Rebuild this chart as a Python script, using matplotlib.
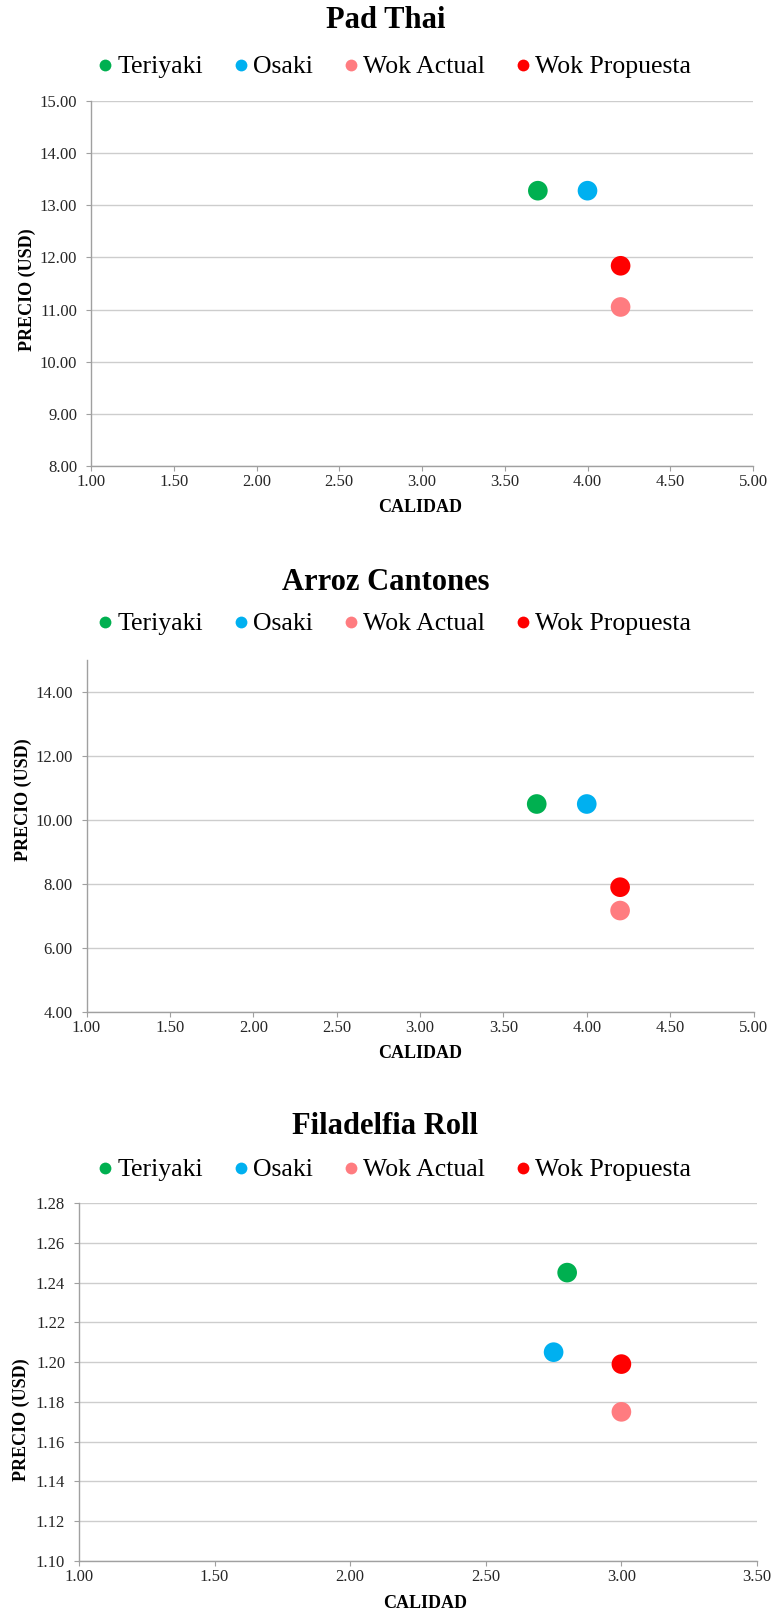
import matplotlib
matplotlib.use("Agg")
import matplotlib.pyplot as plt
from matplotlib.lines import Line2D
from matplotlib.ticker import FormatStrFormatter, MultipleLocator

plt.rcParams['font.family'] = ['Liberation Serif', 'DejaVu Serif']

# Competitors / series
series = ["Teriyaki", "Osaki", "Wok Actual", "Wok Propuesta"]
colors = ["#00B050", "#00B0F0", "#FF7C80", "#FF0000"]

# Pad Thai: quality (x) and price in USD (y)
pad_thai_calidad = [3.70, 4.00, 4.20, 4.20]
pad_thai_precio = [13.28, 13.28, 11.05, 11.84]

# Arroz Cantones
arroz_calidad = [3.70, 4.00, 4.20, 4.20]
arroz_precio = [10.50, 10.50, 7.17, 7.90]

# Filadelfia Roll
filadelfia_calidad = [2.80, 2.75, 3.00, 3.00]
filadelfia_precio = [1.245, 1.205, 1.175, 1.199]

W, H = 771, 1612
fig = plt.figure(figsize=(W / 100, H / 100), dpi=100)


def fx(px):
    return px / W


def fy(py):
    return 1 - py / H


panels = [
    dict(title="Pad Thai", x=pad_thai_calidad, y=pad_thai_precio,
         rect=(91, 101, 753, 466), xlim=(1, 5), xstep=0.5,
         ylim=(8, 15), ystep=1, yfmt="%.2f",
         title_y=21, legend_y=67, ylabel_pos=(27, 290), xlabel_pos=(420, 507)),
    dict(title="Arroz Cantones", x=arroz_calidad, y=arroz_precio,
         rect=(86.5, 660, 753.5, 1012), xlim=(1, 5), xstep=0.5,
         ylim=(4, 15), ystep=2, yfmt="%.2f",
         title_y=583, legend_y=624, ylabel_pos=(23, 800), xlabel_pos=(420, 1053)),
    dict(title="Filadelfia Roll", x=filadelfia_calidad, y=filadelfia_precio,
         rect=(79, 1203, 757, 1561), xlim=(1, 3.5), xstep=0.5,
         ylim=(1.10, 1.28), ystep=0.02, yfmt="%.2f",
         title_y=1127, legend_y=1170, ylabel_pos=(21, 1420), xlabel_pos=(425, 1604)),
]

grid_c = "#CDCDCD"
spine_c = "#A0A0A0"
tick_c = "#262626"

for p in panels:
    l, t, r, b = p["rect"]
    ax = fig.add_axes([fx(l), fy(b), fx(r) - fx(l), (b - t) / H])
    for name, c, xv, yv in zip(series, colors, p["x"], p["y"]):
        ax.scatter([xv], [yv], s=200, color=c, edgecolors="none", zorder=3, label=name)
    ax.set_xlim(*p["xlim"])
    ax.set_ylim(*p["ylim"])
    ax.xaxis.set_major_locator(MultipleLocator(p["xstep"]))
    ax.yaxis.set_major_locator(MultipleLocator(p["ystep"]))
    ax.xaxis.set_major_formatter(FormatStrFormatter("%.2f"))
    ax.yaxis.set_major_formatter(FormatStrFormatter(p["yfmt"]))
    ax.grid(axis="y", color=grid_c, linewidth=1.0, zorder=0)
    ax.set_axisbelow(True)
    for s in ("top", "right"):
        ax.spines[s].set_visible(False)
    for s in ("left", "bottom"):
        ax.spines[s].set_color(spine_c)
        ax.spines[s].set_linewidth(1.0)
    ax.tick_params(axis="both", direction="out", length=3.5, width=0.8,
                   color=spine_c, labelcolor=tick_c, labelsize=12)
    ax.tick_params(axis="y", pad=6.5)
    ax.tick_params(axis="x", pad=2)

    fig.text(fx(385.5), fy(p["title_y"]), p["title"], ha="center", va="center",
             fontsize=22, fontweight="bold", color="black")
    fig.text(fx(p["ylabel_pos"][0]), fy(p["ylabel_pos"][1]), "PRECIO (USD)",
             rotation=90, ha="center", va="center", fontsize=13,
             fontweight="bold", color="black")
    fig.text(fx(p["xlabel_pos"][0]), fy(p["xlabel_pos"][1]), "CALIDAD",
             ha="center", va="center", fontsize=13, fontweight="bold", color="black")

    handles = [Line2D([0], [0], marker="o", linestyle="none", markersize=8.5,
                      markerfacecolor=c, markeredgecolor="none") for c in colors]
    fig.legend(handles, series, loc="center",
               bbox_to_anchor=(fx(395), fy(p["legend_y"])), ncol=4,
               frameon=False, fontsize=18.5, handlelength=0.45,
               handletextpad=0.25, columnspacing=1.25, borderpad=0,
               borderaxespad=0)

fig.savefig("out.png", dpi=100, facecolor="white")
